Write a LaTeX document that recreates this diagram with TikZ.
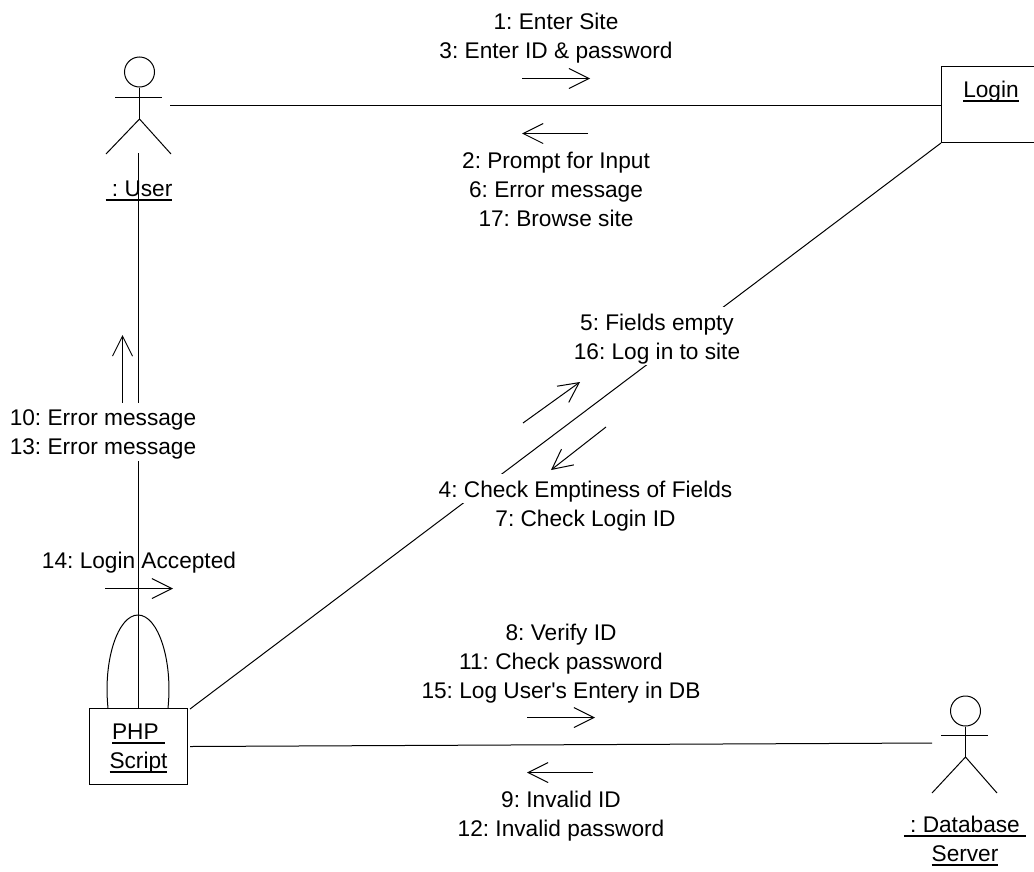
\documentclass[tikz,border=0pt]{standalone}
\usepackage{fontspec}
\setmainfont{Liberation Sans}[Ligatures=TeXOff]
\usetikzlibrary{arrows.meta}
\setlength{\fboxsep}{0pt}
\newsavebox{\ulsave}
\newcommand{\rw}[1]{\rule[-4.5pt]{0pt}{21.75pt}#1}
\newcommand{\wrow}[1]{\colorbox{white}{\rw{#1}}}
\newcommand{\ulined}[1]{\sbox{\ulsave}{#1}\rlap{\rule[-3.4pt]{\wd\ulsave}{1.2pt}}\usebox{\ulsave}}
\tikzset{
 lbl/.style={inner sep=0pt,font=\fontsize{17}{21.75}\selectfont\frenchspacing,align=center},
 conn/.style={line width=0.75pt,black},
 msg/.style={line width=0.75pt,black,-{Straight Barb[length=15pt,width=15pt,line width=0.75pt]}},
 boxnode/.style={lbl,draw,line width=0.75pt,fill=white},
 head/.style={draw,circle,line width=0.75pt,fill=white,inner sep=0pt,minimum size=22.5pt},
}
\begin{document}
\begin{tikzpicture}[x=0.75pt,y=-0.75pt]
\useasboundingbox (0,0) rectangle (1034,871);
\fill[white] (0,0) rectangle (1034,871);
% named ends
\coordinate (userR) at (170,105.5);
\coordinate (userB) at (138.5,153);
\coordinate (dbL) at (932,743);
\coordinate (loopL) at (108,708);
\coordinate (loopT) at (138,615);
\coordinate (loopR) at (168,708);
% boxes
\node[boxnode,minimum width=74.25pt] (login) at (991,104.5) {\rule[-33.75pt]{0pt}{57pt}\ulined{Login}};
\node[boxnode,minimum width=73.5pt,minimum height=57pt] (php) at (138.5,746.5) {\rw{\ulined{PHP\ }}\\\rw{\ulined{Script}}\rule[-6.75pt]{0pt}{1pt}};
% connectors
\draw[conn] (userR) -- (login.west |- userR);
\draw[conn] (userB) -- (php.north -| userB);
\draw[conn] ([shift={(2,1)}]php.north east) -- (login.south west);
\draw[conn] ([xshift=1.5pt]php.east) -- (dbL);
% self loop
\draw[conn] (loopL) .. controls (103,660) and (118,615) .. (loopT) .. controls (158,615) and (173,660) .. (loopR);
% actor user
\node[head] (userhead) at (139.5,72) {};
\draw[conn] (115,97.5) -- (162,97.5);
\draw[conn] (userhead.south) -- (139.5,119);
\draw[conn] (106,154) -- (139.5,119) -- (171,154);
% actor db
\node[head] (dbhead) at (965.5,711) {};
\draw[conn] (941,735.5) -- (988,735.5);
\draw[conn] (dbhead.south) -- (965.5,757);
\draw[conn] (932,793) -- (965.5,757) -- (997,793);
% message arrows
\coordinate (a1s) at (522,78.5); \coordinate (a1e) at (590,78.5);
\coordinate (a2s) at (588,133.5); \coordinate (a2e) at (522,133.5);
\coordinate (a3s) at (122.5,403); \coordinate (a3e) at (122.5,335);
\coordinate (a4s) at (105,588.5); \coordinate (a4e) at (173,588.5);
\coordinate (a5s) at (523,423); \coordinate (a5e) at (580,382);
\coordinate (a6s) at (606,427); \coordinate (a6e) at (551,470);
\coordinate (a7s) at (527,717.5); \coordinate (a7e) at (595,717.5);
\coordinate (a8s) at (593,772.5); \coordinate (a8e) at (527,772.5);
\foreach \s/\e in {a1s/a1e,a2s/a2e,a3s/a3e,a4s/a4e,a5s/a5e,a6s/a6e,a7s/a7e,a8s/a8e}
 \draw[msg] (\s) -- (\e);
% labels
\node[lbl] (l1) at (556,35) {\rw{1: Enter Site}\\\rw{3: Enter ID \& password}};
\node[lbl] (l2) at (556,189) {\rw{2: Prompt for Input}\\\rw{6: Error message}\\\rw{17: Browse site}};
\node[lbl] (lu) at (139,187.5) {\rw{\ulined{\ : User}}};
\node[lbl] (l5) at (657,336) {\wrow{5: Fields empty}\\\wrow{16: Log in to site}};
\node[lbl] (l10) at (103,431.5) {\wrow{10: Error message}\\\wrow{13: Error message}};
\node[lbl] (l4) at (585.5,503) {\wrow{4: Check Emptiness of Fields}\\\wrow{7: Check Login ID}};
\node[lbl] (l14) at (139,559.5) {\rw{14: Login Accepted}};
\node[lbl] (l8) at (561,660.5) {\rw{8: Verify ID}\\\rw{11: Check password}\\\rw{15: Log User's Entery in DB}};
\node[lbl] (l9) at (561,813.5) {\rw{9: Invalid ID}\\\rw{12: Invalid password}};
\node[lbl] (ld) at (965,838) {\rw{\ulined{\ : Database\ }}\\\rw{\ulined{Server}}};
\end{tikzpicture}
\end{document}
